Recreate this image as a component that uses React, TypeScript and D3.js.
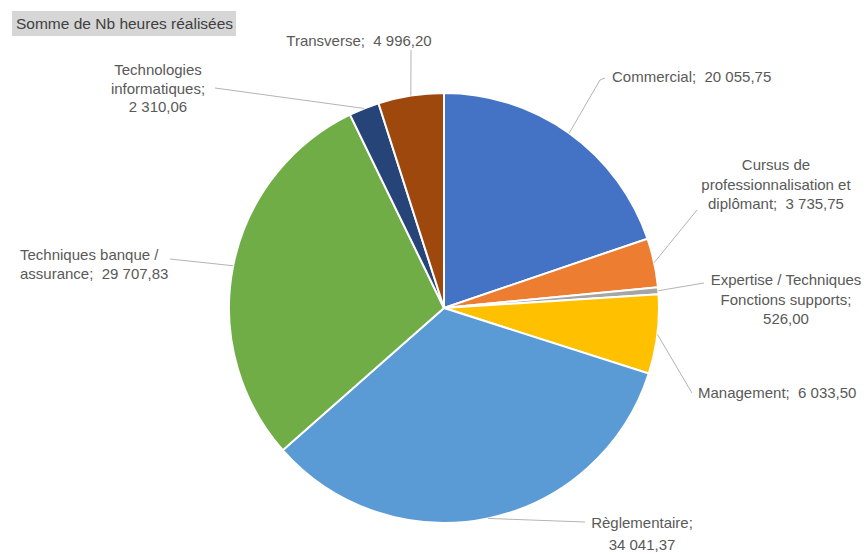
import React from "react";
import * as d3 from "d3";

const title = "Somme de Nb heures réalisées";
const categories = [
  "Commercial",
  "Cursus de professionnalisation et diplômant",
  "Expertise / Techniques Fonctions supports",
  "Management",
  "Règlementaire",
  "Techniques banque / assurance",
  "Technologies informatiques",
  "Transverse",
];
const values = [20055.75, 3735.75, 526.0, 6033.5, 34041.37, 29707.83, 2310.06, 4996.2];
const colors = ["#4472C4", "#ED7D31", "#A5A5A5", "#FFC000", "#5B9BD5", "#70AD47", "#264478", "#9E480E"];

// label layout: words per line, anchor, first baseline, line height, leader end
const labelLayout = [
  { breaks: [2], x: 612, y: 82, lh: 19.5, anchor: "start", end: [605, 78], hook: [600, 80] },
  { breaks: [2, 2, 2], x: 776, y: 170, lh: 19.5, anchor: "middle", end: [697, 210], hook: null },
  { breaks: [3, 2, 1], x: 786, y: 285, lh: 19.5, anchor: "middle", end: [704, 283], hook: null },
  { breaks: [2], x: 698, y: 398, lh: 19.5, anchor: "start", end: [692, 393], hook: null },
  { breaks: [1, 1], x: 642, y: 528, lh: 22, anchor: "middle", end: [585, 522], hook: null },
  { breaks: [3, 2], x: 20, y: 260, lh: 19, anchor: "start", end: [170, 259], hook: null },
  { breaks: [1, 1, 1], x: 158, y: 75, lh: 18.5, anchor: "middle", end: [215, 88], hook: null },
  { breaks: [2], x: 359, y: 46, lh: 19.5, anchor: "middle", end: [411, 50], hook: null },
];

const W = 867;
const H = 554;
const cx = 444;
const cy = 308;
const R = 215;
const FONT = "'Liberation Sans', Arial, sans-serif";
const FS = 15;

const locale = d3.formatLocale({ decimal: ",", thousands: "\u00A0", grouping: [3], currency: ["", " €"] });
const fmt = locale.format(",.2f");

function labelLines(i: number): string[] {
  const words = categories[i].split(" ");
  const tokens = words.map((w, k) => (k === words.length - 1 ? w + ";" : w));
  tokens.push(fmt(values[i]));
  const lines: string[] = [];
  let idx = 0;
  for (const n of labelLayout[i].breaks) {
    const part = tokens.slice(idx, idx + n);
    let s = "";
    part.forEach((t, k) => {
      const globalK = idx + k;
      if (k > 0) s += globalK === tokens.length - 1 ? "  " : " ";
      s += t;
    });
    lines.push(s);
    idx += n;
  }
  return lines;
}

export default function App() {
  const pie = d3
    .pie<number>()
    .sort(null)
    .value((d) => d)
    .startAngle(0)
    .endAngle(2 * Math.PI);
  const arcs = pie(values);
  const arc = d3.arc<d3.PieArcDatum<number>>().innerRadius(0).outerRadius(R);
  const edge = d3.arc<d3.PieArcDatum<number>>().innerRadius(R).outerRadius(R);

  return (
    <svg
      width={W}
      height={H}
      style={{ position: "absolute", left: 0, top: 0, background: "#fff" }}
      fontFamily={FONT}
    >
      <rect x={12} y={11} width={224} height={25} fill="#D6D6D6" />
      <text x={16} y={29} fontSize={15.5} fill="#404040">
        {title}
      </text>
      <g transform={`translate(${cx},${cy})`}>
        {arcs.map((a, i) => (
          <path key={i} d={arc(a) || ""} fill={colors[i]} stroke="#fff" strokeWidth={2} />
        ))}
      </g>
      {arcs.map((a, i) => {
        const [ex, ey] = edge.centroid(a);
        const L = labelLayout[i];
        const pts: [number, number][] = [[cx + ex, cy + ey], L.end as [number, number]];
        if (L.hook) pts.splice(1, 0, L.hook as [number, number]);
        return (
          <path
            key={"l" + i}
            d={d3.line()(pts) || ""}
            fill="none"
            stroke="#B4B4B4"
            strokeWidth={1}
          />
        );
      })}
      {categories.map((c, i) => {
        const L = labelLayout[i];
        const lines = labelLines(i);
        return (
          <text
            key={"t" + i}
            x={L.x}
            y={L.y}
            fontSize={FS}
            fill="#595959"
            textAnchor={L.anchor}
            style={{ whiteSpace: "pre" }}
          >
            {lines.map((ln, k) => (
              <tspan key={k} x={L.x} y={L.y + k * L.lh}>
                {ln}
              </tspan>
            ))}
          </text>
        );
      })}
    </svg>
  );
}
